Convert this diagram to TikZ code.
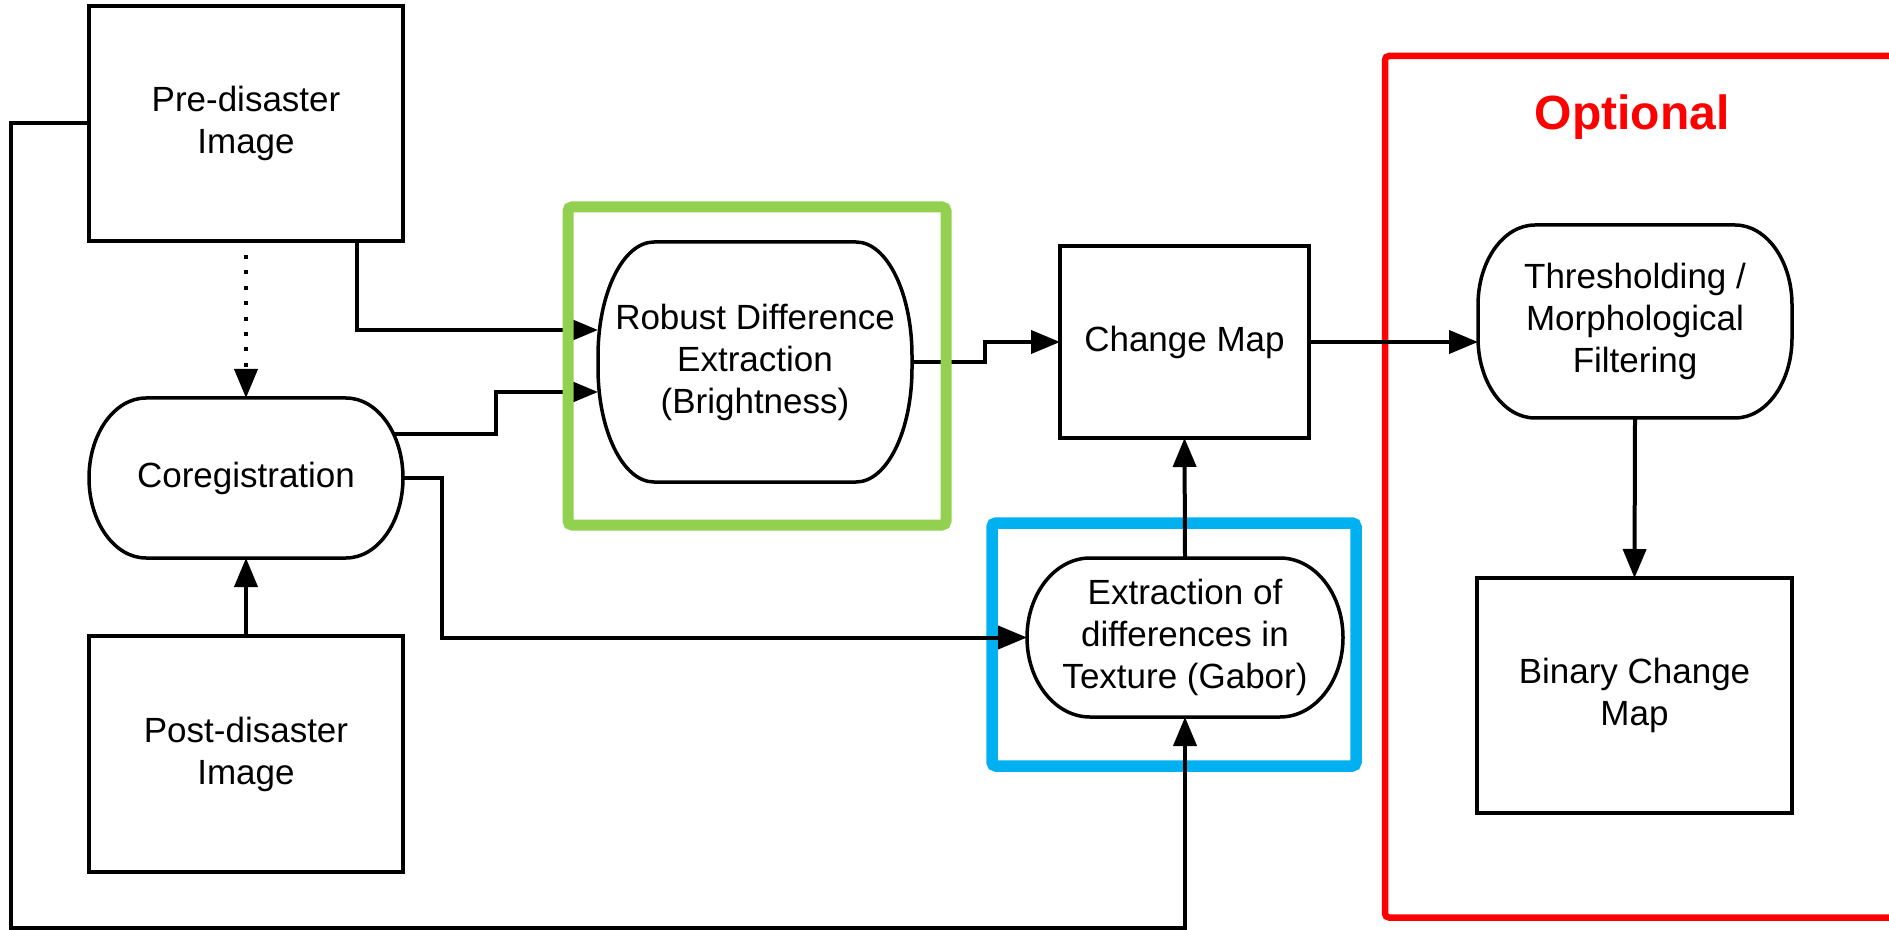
\documentclass[tikz,border=0pt]{standalone}
\usepackage{fontspec}
\setmainfont{Liberation Sans}
\usepackage{tikz}
\usetikzlibrary{arrows.meta,positioning,calc}
\definecolor{grpgreen}{HTML}{92D050}
\definecolor{grpblue}{HTML}{00B0F0}
\newcommand{\nfont}{\fontsize{17.5}{21}\selectfont}
% outline with elliptic corners around a (borderless) node: name, x radius, y radius
\newcommand{\capsule}[3]{%
  \draw[line width=1.75pt]
    ([xshift=-#2]#1.north east) arc[start angle=90, end angle=0, x radius=#2, y radius=#3]
    -- ([yshift=#3]#1.south east) arc[start angle=0, end angle=-90, x radius=#2, y radius=#3]
    -- ([xshift=#2]#1.south west) arc[start angle=270, end angle=180, x radius=#2, y radius=#3]
    -- ([yshift=-#3]#1.north west) arc[start angle=180, end angle=90, x radius=#2, y radius=#3]
    -- cycle;}

\begin{document}
\begin{tikzpicture}[
  x=0.5pt, y=0.5pt,
  blk/.style={draw, line width=1.75pt, align=center, inner sep=0pt, outer sep=0pt, font=\nfont},
  term/.style={blk, draw=none},
  pf/.style={line width=2pt, -{Triangle[length=14.5pt,width=11.5pt]}},
  grp/.style={line width=5.5pt, rounded corners=2pt}
]
\useasboundingbox (0,0) rectangle (1889,-930);

% inputs
\node[blk, minimum width=157pt, minimum height=117.5pt] (pre) at (246,-123.5) {Pre-disaster\\Image};
\node[term, minimum width=157pt, minimum height=80pt] (coreg) at (246,-478) {Coregistration};
\node[blk, minimum width=157pt, minimum height=118pt] (post) at (246,-754) {Post-disaster\\Image};

% change detection
\node[term, minimum width=157pt, minimum height=120pt] (robust) at (755,-362) {Robust Difference\\Extraction\\(Brightness)};
\node[blk, minimum width=124.5pt, minimum height=96pt] (change) at (1184.5,-342) {Change Map};
\node[term, minimum width=158pt, minimum height=79.5pt] (gabor) at (1185,-637.5) {Extraction of\\differences in\\Texture (Gabor)};

% optional part
\node[term, minimum width=157pt, minimum height=96.5pt] (thresh) at (1635,-321.5) {Thresholding /\\Morphological\\Filtering};
\node[blk, minimum width=157.5pt, minimum height=117.5pt] (binary) at (1634.5,-695.5) {Binary Change\\Map};
\node[text=red, font=\fontsize{24}{28}\selectfont\bfseries] (opt) at (1632,-117) {Optional};

\capsule{coreg}{28.5pt}{40pt}
\capsule{robust}{28pt}{57pt}
\capsule{gabor}{31.5pt}{39.75pt}
\capsule{thresh}{28.5pt}{40pt}

\draw[grpblue, grp, line width=5.75pt] (992,-523) rectangle (1356,-766);
\draw[red, line width=3.25pt, rounded corners=2pt] (1900,-56) -- (1385,-56) -- (1385,-917.5) -- (1900,-917.5);

\coordinate (c1) at (394,-434);
\coordinate (fb) at (11,-928);

\draw[pf, dash pattern=on 2pt off 5.7pt, shorten <=7pt] (pre.south) -- (coreg.north);
\draw[pf] (post.north) -- (coreg.south);
\draw[pf] ([xshift=55.5pt]pre.south) |- ([yshift=16pt]robust.west);
\draw[pf] (c1) -- ++(102,0) |- ([yshift=-15pt]robust.west);
\draw[pf] (coreg.east) -- ++(39,0) |- (gabor.west);
\draw[pf] (pre.west) -| (fb) -| (gabor.south);
\draw[pf] (robust.east) -- ++(73,0) |- (change.west);
\draw[pf] (gabor.north) -- (change.south);
\draw[pf] (change.east) -- (change.east -| thresh.west);
\draw[pf] (thresh.south) -- (binary.north);

\draw[grpgreen, grp] (568,-207) rectangle (946,-525);
\end{tikzpicture}
\end{document}
